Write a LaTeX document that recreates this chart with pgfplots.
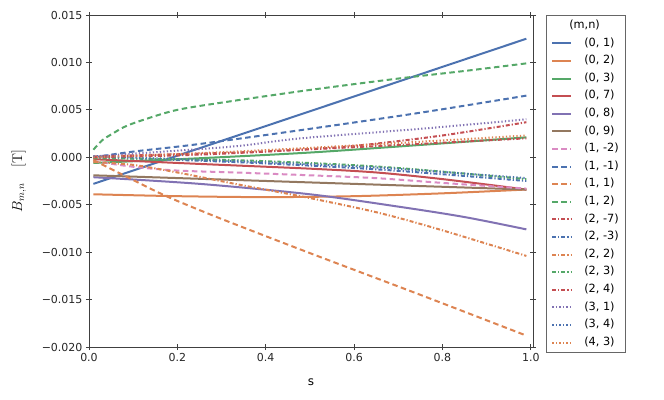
\documentclass[border=0pt]{standalone}
\usepackage{fontspec}
\setsansfont{DejaVu Sans}
\usepackage{pgfplots}
\pgfplotsset{compat=1.18}
\definecolor{cblue}{HTML}{4C72B0}
\definecolor{corange}{HTML}{DD8452}
\definecolor{cgreen}{HTML}{55A868}
\definecolor{cred}{HTML}{C44E52}
\definecolor{cpurple}{HTML}{8172B3}
\definecolor{cbrown}{HTML}{937860}
\definecolor{cpink}{HTML}{DA8BC3}
\tikzset{
  sdash/.style={dash pattern=on 5.5pt off 3.5pt},
  sdashdot/.style={dash pattern=on 4pt off 2pt on 1.2pt off 2pt},
  sdot/.style={dash pattern=on 1.3pt off 2.2pt},
}
\begin{document}
\begin{tikzpicture}
\useasboundingbox (-89pt,-52pt) rectangle (575pt,347pt);
\begin{axis}[
  scale only axis, width=444pt, height=332pt,
  xmin=0, xmax=1.005, ymin=-0.02, ymax=0.015,
  scaled x ticks=false, scaled y ticks=false,
  xtick={0,0.2,0.4,0.6,0.8,1.0},
  xticklabels={0.0,0.2,0.4,0.6,0.8,1.0},
  ytick={-0.02,-0.015,-0.01,-0.005,0,0.005,0.01,0.015},
  yticklabels={−0.020,−0.015,−0.010,−0.005,0.000,0.005,0.010,0.015},
  minor tick num=0,
  tick align=center, major tick length=6pt,
  every tick/.style={black!75, line width=0.8pt},
  axis line style={black!75, line width=0.8pt},
  tick label style={font=\sffamily\fontsize{11}{13}\selectfont, black!85},
  xlabel={s}, ylabel={$B_{m,n}$\hspace{16pt}[T]},
  xlabel style={font=\sffamily\fontsize{12}{14}\selectfont, at={(axis description cs:0.5,-0.105)}, anchor=center},
  ylabel style={font=\fontsize{14}{16}\selectfont, at={(axis description cs:-0.158,0.5)}, anchor=center},
  legend cell align=left,
  legend style={at={(axis description cs:1.029,1)}, anchor=north west,
    draw=black!60, line width=0.8pt, fill=white,
    font=\sffamily\fontsize{11.3}{13}\selectfont,
    inner xsep=5pt, inner ysep=1.5pt, column sep=10pt,
    nodes={text height=8.3pt, text depth=2.7pt, inner ysep=3.3pt, inner xsep=2pt}},
  legend image code/.code={\draw[#1, line width=2pt] (0pt,0pt) -- (19pt,0pt);},
  every axis plot post/.append style={line width=2pt, mark=none},
]
\addlegendimage{empty legend}
\addlegendentry{\hspace*{-15pt}(m,n)}
% (0,1)
\addplot[cblue] coordinates {(0.01,-0.0028) (0.25,0.00095) (0.5,0.00485) (0.75,0.00875) (0.99,0.0125)};
\addlegendentry{(0, 1)}
% (0,2)
\addplot[corange, smooth] coordinates {(0.01,-0.0039) (0.2,-0.0041) (0.4,-0.0042) (0.6,-0.0041) (0.8,-0.0038) (0.99,-0.0034)};
\addlegendentry{(0, 2)}
% (0,3)
\addplot[cgreen, smooth] coordinates {(0.01,-0.0006) (0.25,-0.0001) (0.5,0.0005) (0.75,0.0013) (0.99,0.0021)};
\addlegendentry{(0, 3)}
% (0,7)
\addplot[cred, smooth] coordinates {(0.01,-0.0002) (0.25,-0.0007) (0.5,-0.0012) (0.65,-0.0016) (0.8,-0.0023) (0.99,-0.0034)};
\addlegendentry{(0, 7)}
% (0,8)
\addplot[cpurple, smooth] coordinates {(0.01,-0.0021) (0.25,-0.0028) (0.5,-0.0039) (0.7,-0.0052) (0.85,-0.0063) (0.99,-0.0076)};
\addlegendentry{(0, 8)}
% (0,9)
\addplot[cbrown] coordinates {(0.01,-0.0019) (0.5,-0.00265) (0.99,-0.0034)};
\addlegendentry{(0, 9)}
% (1,-2)
\addplot[cpink, sdash, smooth] coordinates {(0.01,-0.0004) (0.1,-0.001) (0.2,-0.0014) (0.33,-0.0016) (0.5,-0.0019) (0.65,-0.0022) (0.8,-0.0027) (0.99,-0.0033)};
\addlegendentry{(1, -2)}
% (1,-1)
\addplot[cblue, sdash, smooth] coordinates {(0.01,0.0) (0.1,0.0006) (0.25,0.0014) (0.5,0.0030) (0.75,0.0047) (0.99,0.0065)};
\addlegendentry{(1, -1)}
% (1,1)
\addplot[corange, sdash, smooth] coordinates {(0.01,-0.0003) (0.1,-0.0024) (0.18,-0.0042) (0.3,-0.0065) (0.5,-0.0101) (0.75,-0.0145) (0.99,-0.0188)};
\addlegendentry{(1, 1)}
% (1,2)
\addplot[cgreen, sdash, smooth] coordinates {(0.01,0.0008) (0.03,0.0018) (0.05,0.0024) (0.08,0.0032) (0.12,0.0039) (0.2,0.0050) (0.32,0.0059) (0.5,0.0071) (0.7,0.0083) (0.85,0.0091) (0.99,0.0099)};
\addlegendentry{(1, 2)}
% (2,-7)
\addplot[cred, sdashdot, smooth] coordinates {(0.01,0.0001) (0.33,0.0005) (0.66,0.0012) (0.99,0.0020)};
\addlegendentry{(2, -7)}
% (2,-3)
\addplot[cblue, sdashdot, smooth] coordinates {(0.01,0.0) (0.33,-0.0005) (0.66,-0.0013) (0.99,-0.0025)};
\addlegendentry{(2, -3)}
% (2,2)
\addplot[corange, sdashdot, smooth] coordinates {(0.01,-0.0005) (0.1,-0.0008) (0.2,-0.0016) (0.33,-0.0028) (0.5,-0.0043) (0.66,-0.0059) (0.8,-0.0077) (0.99,-0.0104)};
\addlegendentry{(2, 2)}
% (2,3)
\addplot[cgreen, sdashdot, smooth] coordinates {(0.01,-0.0001) (0.33,-0.0003) (0.66,-0.0010) (0.99,-0.0023)};
\addlegendentry{(2, 3)}
% (2,4)
\addplot[cred, sdashdot, smooth] coordinates {(0.01,0.0) (0.2,0.0002) (0.4,0.0006) (0.6,0.0012) (0.8,0.0023) (0.99,0.0037)};
\addlegendentry{(2, 4)}
% (3,1)
\addplot[cpurple, sdot, smooth] coordinates {(0.01,0.0001) (0.2,0.0007) (0.34,0.0012) (0.48,0.0020) (0.75,0.0030) (0.99,0.0040)};
\addlegendentry{(3, 1)}
% (3,4)
\addplot[cblue, sdot, smooth] coordinates {(0.01,0.0001) (0.33,-0.0004) (0.66,-0.0011) (0.99,-0.0022)};
\addlegendentry{(3, 4)}
% (4,3)
\addplot[corange, sdot, smooth] coordinates {(0.01,0.0) (0.33,0.0006) (0.66,0.0014) (0.99,0.0023)};
\addlegendentry{(4, 3)}
\end{axis}
\end{tikzpicture}
\end{document}
